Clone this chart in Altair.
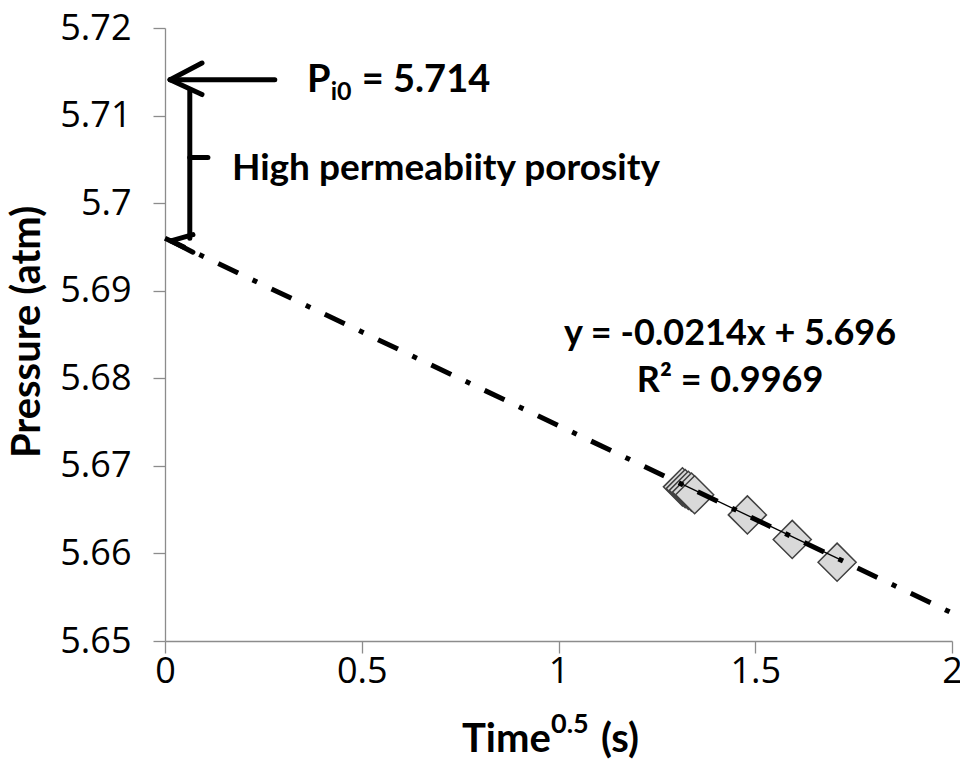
import altair as alt
import pandas as pd

# ---- data ----
time_sqrt = [1.315, 1.322, 1.330, 1.338, 1.346, 1.480, 1.594, 1.708]
pressure = [5.6676, 5.6674, 5.6672, 5.6670, 5.6667, 5.6644, 5.6616, 5.6590]

fit_x = [1.31, 1.72]
fit_y = [5.6680, 5.6592]

ext_x = [0.0, 2.0]
ext_y = [5.696, 5.6532]

# annotation segments (arrow + brace), in data units
seg_x = [0.013, 0.013, 0.013, 0.063, 0.063, 0.015, 0.015]
seg_y = [5.7141, 5.7141, 5.7141, 5.7128, 5.7052, 5.6957, 5.6957]
seg_x2 = [0.279, 0.094, 0.094, 0.063, 0.109, 0.071, 0.071]
seg_y2 = [5.7141, 5.7160, 5.7124, 5.6960, 5.7052, 5.6964, 5.6944]

x_ticks = [0, 0.5, 1, 1.5, 2]
y_ticks = [5.65, 5.66, 5.67, 5.68, 5.69, 5.70, 5.71, 5.72]

W, H = 787, 613
BOLD = "Lato"

xs = alt.Scale(domain=[0, 2], nice=False, zero=False)
ys = alt.Scale(domain=[5.65, 5.72], nice=False, zero=False)

pts_df = pd.DataFrame({"t": time_sqrt, "p": pressure})
points = alt.Chart(pts_df).mark_point(
    shape="diamond", filled=True, fill="#d9d9d9", stroke="#404040",
    strokeWidth=1.5, size=1450, opacity=1
).encode(
    x=alt.X("t:Q", scale=xs, axis=alt.Axis(values=x_ticks, format=".1~f", title=None, labelFlush=False)),
    y=alt.Y("p:Q", scale=ys, axis=alt.Axis(values=y_ticks, format=".2~f", title=None, labelFlush=False)),
)

fit = alt.Chart(pd.DataFrame({"t": fit_x, "p": fit_y})).mark_line(
    color="black", strokeWidth=1.3
).encode(x=alt.X("t:Q", scale=xs), y=alt.Y("p:Q", scale=ys))

ext = alt.Chart(pd.DataFrame({"t": ext_x, "p": ext_y})).mark_line(
    color="black", strokeWidth=5, strokeDash=[22, 16, 5, 16]
).encode(x=alt.X("t:Q", scale=xs), y=alt.Y("p:Q", scale=ys))

segs = alt.Chart(pd.DataFrame({"x": seg_x, "y": seg_y, "x2": seg_x2, "y2": seg_y2})).mark_rule(
    color="black", strokeWidth=5, strokeCap="round"
).encode(
    x=alt.X("x:Q", scale=xs), y=alt.Y("y:Q", scale=ys), x2="x2:Q", y2="y2:Q"
)

def txt(text, x, y, size, align="left", bold=True, dy=0):
    return alt.Chart(pd.DataFrame({"x": [x], "y": [y], "s": [text]})).mark_text(
        align=align, baseline="alphabetic", font=BOLD,
        fontWeight="bold" if bold else "normal", fontSize=size, color="black", dy=dy
    ).encode(x=alt.X("x:Q", scale=xs), y=alt.Y("y:Q", scale=ys), text="s:N")

texts = [
    txt("P", 0.361, 5.7127, 38),
    txt("i0", 0.421, 5.7118, 25),
    txt("= 5.714", 0.500, 5.7127, 38),
    txt("High permeabiity porosity", 0.170, 5.7026, 37),
    txt("y = -0.0214x + 5.696", 1.436, 5.6838, 36, align="center"),
    txt("R² = 0.9969", 1.436, 5.6784, 36, align="center"),
]

def ptxt(text, px, py, size, angle=0, align="left", baseline="alphabetic"):
    return alt.Chart(pd.DataFrame({"s": [text]})).mark_text(
        align=align, baseline=baseline, font=BOLD, fontWeight="bold",
        fontSize=size, color="black", angle=angle
    ).encode(x=alt.value(px), y=alt.value(py), text="s:N")

titles = [
    ptxt("Pressure (atm)", 28 - 165, 332 - 28, 40, angle=270, align="center", baseline="middle"),
    ptxt("Time", 462 - 165, 752 - 28, 40),
    ptxt("0.5", 551 - 165, 733 - 28, 27),
    ptxt("(s)", 601 - 165, 752 - 28, 40),
]

chart = alt.layer(points, fit, ext, segs, *texts, *titles).properties(
    width=W, height=H,
    padding={"left": 165, "top": 28, "right": 8, "bottom": 119},
    autosize=alt.AutoSizeParams(type="none"),
).configure_view(stroke=None).configure_axis(
    grid=False, domainColor="#8c8c8c", tickColor="#8c8c8c", domainWidth=1.3,
    tickWidth=1.3, tickSize=12, labelFont="Open Sans", labelFontSize=36,
    labelColor="black",
).configure_axisY(labelPadding=22).configure_axisX(labelPadding=1)

chart.save("out.html", embed_options={"renderer": "svg", "actions": False})
